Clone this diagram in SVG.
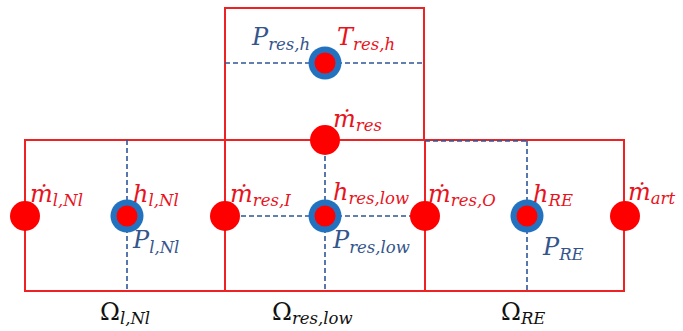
<svg xmlns="http://www.w3.org/2000/svg" width="683" height="331" viewBox="0 0 683 331">
<style>
.box{fill:none;stroke:#ee2222;stroke-width:2}
.dash{fill:none;stroke:#2f5597;stroke-width:1.6;stroke-dasharray:5,3}
.dot{fill:#ff0000}
.ring{fill:#2272c0}
.r{fill:#e8131c;font-family:"DejaVu Serif","Liberation Serif",serif;font-style:italic;font-size:24px}
.b{fill:#34558c;font-family:"DejaVu Serif","Liberation Serif",serif;font-style:italic;font-size:24px}
.k{fill:#111;font-family:"DejaVu Serif","Liberation Serif",serif;font-size:24px}
.s{font-size:16.5px;font-style:italic}
</style>
<rect width="683" height="331" fill="#fff"/>
<g id="boxes">
<rect class="box" x="225" y="8" width="199" height="132"/>
<rect class="box" x="25" y="140" width="599" height="151"/>
<line class="box" x1="225" y1="140" x2="225" y2="291"/>
<line class="box" x1="425" y1="140" x2="425" y2="291"/>
</g>
<g id="connectors">
<line class="dash" x1="225" y1="63" x2="424" y2="63"/>
<line class="dash" x1="127" y1="140" x2="127" y2="291"/>
<line class="dash" x1="225" y1="216" x2="425" y2="216"/>
<line class="dash" x1="325" y1="140" x2="325" y2="291"/>
<line class="dash" x1="425" y1="141" x2="527" y2="141"/>
<line class="dash" x1="527" y1="141" x2="527" y2="291"/>
</g>
<g id="node-res-h">
<circle class="ring" cx="325" cy="63" r="16.5"/>
<circle class="dot" cx="325" cy="63" r="10.5"/>
<text class="b" x="252" y="45">P<tspan class="s" dy="5">res,h</tspan></text>
<text class="r" x="337" y="45">T<tspan class="s" dy="5">res,h</tspan></text>
</g>
<g id="node-m-res">
<circle class="dot" cx="325" cy="140" r="15"/>
<text class="r" x="333" y="127">ṁ<tspan class="s" dy="4">res</tspan></text>
</g>
<g id="node-m-lNl">
<circle class="dot" cx="25" cy="216" r="15"/>
<text class="r" x="30" y="202">ṁ<tspan class="s" dy="4">l,Nl</tspan></text>
</g>
<g id="node-lNl">
<circle class="ring" cx="127" cy="216" r="16.5"/>
<circle class="dot" cx="127" cy="216" r="10.5"/>
<text class="r" x="133" y="202">h<tspan class="s" dy="4">l,Nl</tspan></text>
<text class="b" x="133" y="248">P<tspan class="s" dy="5">l,Nl</tspan></text>
</g>
<g id="node-m-resI">
<circle class="dot" cx="225" cy="216" r="15"/>
<text class="r" x="230" y="202">ṁ<tspan class="s" dy="4">res,I</tspan></text>
</g>
<g id="node-res-low">
<circle class="ring" cx="325" cy="216" r="16.5"/>
<circle class="dot" cx="325" cy="216" r="10.5"/>
<text class="r" x="333" y="200">h<tspan class="s" dy="4">res,low</tspan></text>
<text class="b" x="333" y="248">P<tspan class="s" dy="5">res,low</tspan></text>
</g>
<g id="node-m-resO">
<circle class="dot" cx="425" cy="216" r="15"/>
<text class="r" x="428" y="202">ṁ<tspan class="s" dy="4">res,O</tspan></text>
</g>
<g id="node-RE">
<circle class="ring" cx="527" cy="216" r="16.5"/>
<circle class="dot" cx="527" cy="216" r="10.5"/>
<text class="r" x="533" y="202">h<tspan class="s" dy="4">RE</tspan></text>
<text class="b" x="543" y="255">P<tspan class="s" dy="5">RE</tspan></text>
</g>
<g id="node-m-art">
<circle class="dot" cx="625" cy="216" r="15"/>
<text class="r" x="628" y="200">ṁ<tspan class="s" dy="4">art</tspan></text>
</g>
<g id="domain-labels">
<text class="k" x="100" y="320">Ω<tspan class="s" dy="4">l,Nl</tspan></text>
<text class="k" x="272" y="320">Ω<tspan class="s" dy="4">res,low</tspan></text>
<text class="k" x="501" y="320">Ω<tspan class="s" dy="4">RE</tspan></text>
</g>
</svg>
